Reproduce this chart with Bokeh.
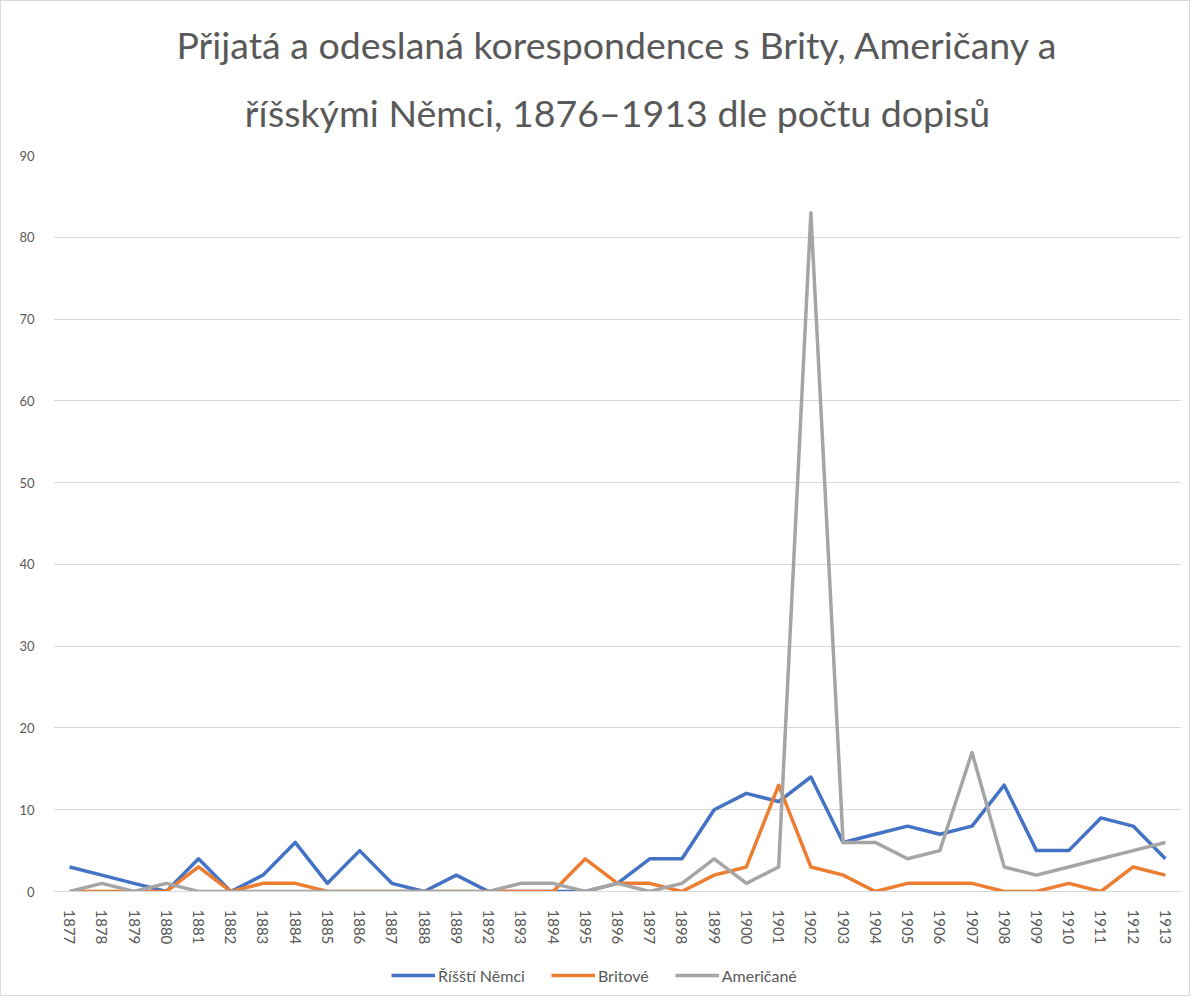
from bokeh.plotting import figure
from bokeh.layouts import column
from bokeh.models import FactorRange, Range1d, Title, Legend, LegendItem, SingleIntervalTicker
from bokeh.embed import file_html
from bokeh.resources import INLINE

years = ["1877", "1878", "1879", "1880", "1881", "1882", "1883", "1884", "1885", "1886",
         "1887", "1888", "1889", "1892", "1893", "1894", "1895", "1896", "1897", "1898",
         "1899", "1900", "1901", "1902", "1903", "1904", "1905", "1906", "1907", "1908",
         "1909", "1910", "1911", "1912", "1913"]
nemci = [3, 2, 1, 0, 4, 0, 2, 6, 1, 5, 1, 0, 2, 0, 0, 0, 0, 1, 4, 4,
         10, 12, 11, 14, 6, 7, 8, 7, 8, 13, 5, 5, 9, 8, 4]
britove = [0, 0, 0, 0, 3, 0, 1, 1, 0, 0, 0, 0, 0, 0, 0, 0, 4, 1, 1, 0,
           2, 3, 13, 3, 2, 0, 1, 1, 1, 0, 0, 1, 0, 3, 2]
americane = [0, 1, 0, 1, 0, 0, 0, 0, 0, 0, 0, 0, 0, 0, 1, 1, 0, 1, 0, 1,
             4, 1, 3, 83, 6, 6, 4, 5, 17, 3, 2, 3, 4, 5, 6]
series_names = ["Říšští Němci", "Britové", "Američané"]
colors = ["#4472C4", "#ED7D31", "#A5A5A5"]
title1 = "Přijatá a odeslaná korespondence s Brity, Američany a"
title2 = "říšskými Němci, 1876–1913 dle počtu dopisů"

FONT = "Lato"
TXT = "#595959"
series = [nemci, britove, americane]

p = figure(frame_width=1128, frame_height=736, x_range=FactorRange(*years, range_padding=0),
           y_range=Range1d(0, 90), output_backend="svg", toolbar_location=None,
           min_border_left=52, min_border_right=8, min_border_top=154, min_border_bottom=64)

t2 = Title(text=title2, align="center", text_font=FONT, text_font_size="37.5px",
           text_color=TXT, text_font_style="normal", standoff=42)
t1 = Title(text=title1, align="center", text_font=FONT, text_font_size="37.5px",
           text_color=TXT, text_font_style="normal", standoff=0)
p.add_layout(t2, "above")
p.add_layout(t1, "above")

for vals, c in zip(series, colors):
    p.line(years, vals, line_color=c, line_width=3.5, line_join="round")

p.outline_line_color = None
p.xgrid.grid_line_color = None
p.ygrid.grid_line_color = "#d9d9d9"
p.ygrid.grid_line_width = 1

p.yaxis.ticker = SingleIntervalTicker(interval=10)
p.yaxis.axis_line_color = None
p.yaxis.major_tick_line_color = None
p.yaxis.minor_tick_line_color = None
p.yaxis.major_label_text_font = FONT
p.yaxis.major_label_text_font_size = "13px"
p.yaxis.major_label_text_color = TXT
p.yaxis.major_label_standoff = 13

p.xaxis.axis_line_color = "#d9d9d9"
p.xaxis.major_tick_line_color = None
p.xaxis.minor_tick_line_color = None
p.xaxis.major_label_orientation = "vertical"
p.xaxis.major_label_text_font = FONT
p.xaxis.major_label_text_font_size = "15px"
p.xaxis.major_label_text_color = TXT
p.xaxis.major_label_standoff = 12

# legend strip below the chart
lg = figure(width=1188, height=40, x_range=FactorRange(*years, range_padding=0),
            y_range=Range1d(-100, -99), output_backend="svg", toolbar_location=None,
            x_axis_type=None, y_axis_type=None, min_border=0)
lg.outline_line_color = None
lg.xgrid.grid_line_color = None
lg.ygrid.grid_line_color = None
lrs = []
for vals, c in zip(series, colors):
    lrs.append(lg.line(years, vals, line_color=c, line_width=3.5))
legend = Legend(items=[LegendItem(label=n, renderers=[r]) for n, r in zip(series_names, lrs)],
                orientation="horizontal", location=(338, 10),
                label_text_font=FONT, label_text_font_size="16px", label_text_color=TXT,
                border_line_color=None, background_fill_alpha=0, label_height=20,
                glyph_width=44, spacing=26, label_standoff=3, padding=0, margin=0)
lg.add_layout(legend, "center")

layout = column(p, lg, spacing=0, styles={"border": "1px solid #d9d9d9"})
open("out.html", "w").write(file_html(layout, INLINE))
